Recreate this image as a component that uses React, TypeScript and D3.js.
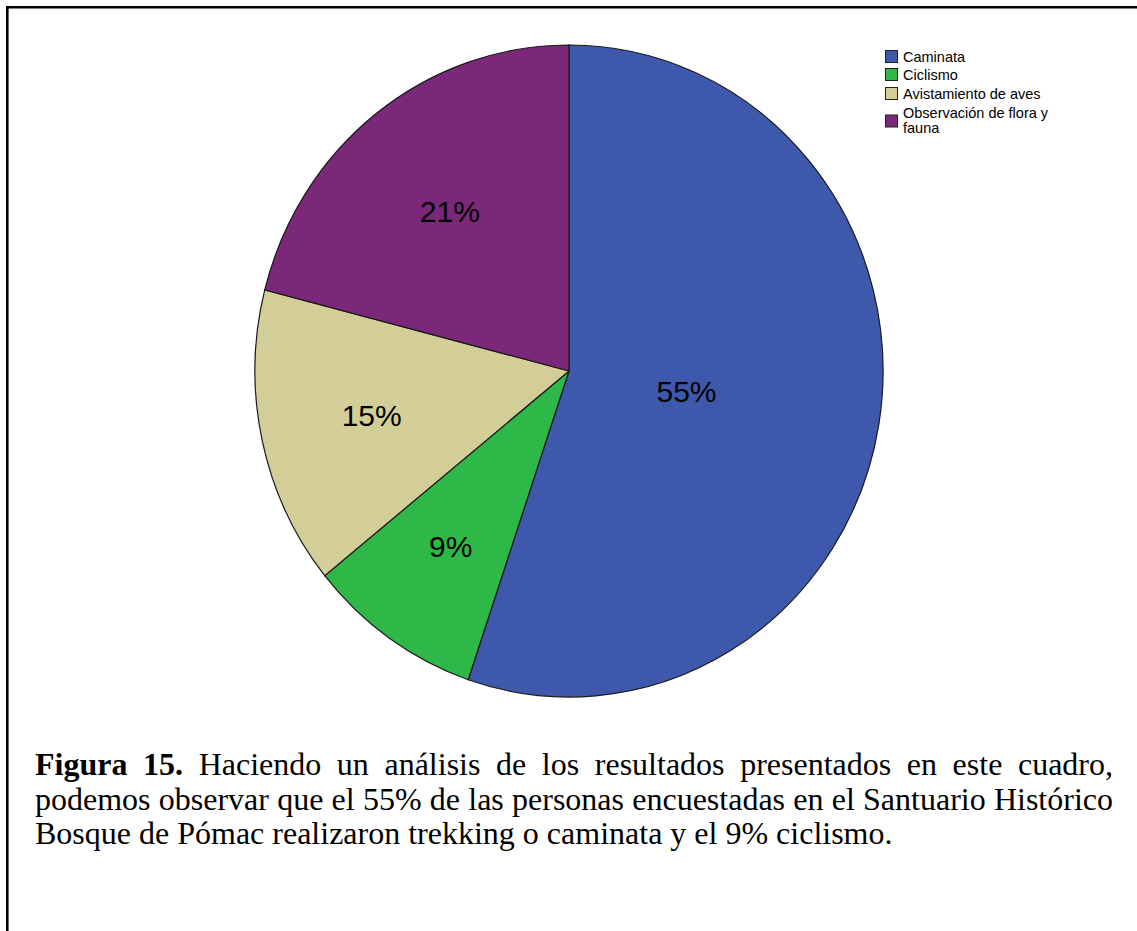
import React, { useEffect, useRef } from "react";
import * as d3 from "d3";

const categories = ["Caminata", "Ciclismo", "Avistamiento de aves", "Observación de flora y fauna"];
const legendLines = [["Caminata"], ["Ciclismo"], ["Avistamiento de aves"], ["Observación de flora y", "fauna"]];
const values = [55.2, 9.0, 14.8, 21.0];
const colors = ["#3e58ac", "#2eb848", "#d3ce97", "#7b287b"];
const captionLines = [
  { bold: "Figura 15.", text: " Haciendo un análisis de los resultados presentados en este cuadro,", justify: true },
  { bold: "", text: "podemos observar que el 55% de las personas encuestadas en el Santuario Histórico", justify: true },
  { bold: "", text: "Bosque de Pómac realizaron trekking o caminata y el 9% ciclismo.", justify: false },
];

const W = 1137;
const H = 931;
const cx = 569;
const cy = 371;
const rx = 314;
const ry = 326;
const capLeft = 35;
const capRight = 1113;
const capTop = 775;
const capLineH = 34.5;

export default function App() {
  const capRef = useRef<SVGGElement>(null);

  const total = d3.sum(values);
  const pie = d3.pie<number>().sort(null).value((d) => d).startAngle(0).endAngle(2 * Math.PI);
  const arcs = pie(values);
  const arc = d3.arc<d3.PieArcDatum<number>>().innerRadius(0).outerRadius(1);

  useEffect(() => {
    if (!capRef.current) return;
    const g = d3.select(capRef.current);
    g.selectAll<SVGTextElement, unknown>("text.cap").each(function () {
      const el = this as SVGTextElement;
      if (el.getAttribute("data-justify") !== "1") return;
      el.style.wordSpacing = "0px";
      const natural = el.getComputedTextLength();
      const txt = el.textContent || "";
      const gaps = (txt.match(/ /g) || []).length;
      if (gaps > 0) {
        const extra = (capRight - capLeft - natural) / gaps;
        el.style.wordSpacing = `${extra}px`;
      }
    });
  }, []);

  return (
    <svg width={W} height={H} style={{ position: "absolute", left: 0, top: 0, background: "#fff" }}>
      <rect x={0} y={0} width={W} height={H} fill="#fff" />
      <path d={`M7.3,${H} L7.3,7.3 L${W},7.3`} fill="none" stroke="#000" strokeWidth={2.6} />
      <g transform={`translate(${cx},${cy}) scale(${rx},${ry})`}>
        {arcs.map((a, i) => (
          <path
            key={i}
            d={arc(a) || ""}
            fill={colors[i]}
            stroke="#1a1a1a"
            strokeWidth={1.2}
            vectorEffect="non-scaling-stroke"
          />
        ))}
      </g>
      {arcs.map((a, i) => {
        const mid = (a.startAngle + a.endAngle) / 2;
        const half = (a.endAngle - a.startAngle) / 2;
        const k = (2 * Math.sin(half)) / (3 * half);
        const x = cx + rx * k * Math.sin(mid);
        const y = cy - ry * k * Math.cos(mid);
        return (
          <text
            key={i}
            x={x}
            y={y}
            dy="0.35em"
            textAnchor="middle"
            fontFamily="'Liberation Sans', Arial, sans-serif"
            fontSize={30}
            fill="#000"
          >
            {`${Math.round((values[i] / total) * 100)}%`}
          </text>
        );
      })}
      <g fontFamily="'Liberation Sans', Arial, sans-serif" fontSize={14.5} fill="#000">
        {legendLines.map((lines, i) => {
          const base = [62, 80, 99, 118][i];
          const sqY = lines.length > 1 ? base - 3 : base - 11.5;
          return (
            <g key={i}>
              <rect x={885.5} y={sqY} width={12} height={12} fill={colors[i]} stroke="#222" strokeWidth={1} />
              {lines.map((t, j) => (
                <text key={j} x={903} y={base + j * 14.5}>
                  {t}
                </text>
              ))}
            </g>
          );
        })}
      </g>
      <g ref={capRef} fontFamily="'Liberation Serif', 'Times New Roman', serif" fontSize={32} fill="#000">
        {captionLines.map((l, i) => (
          <text
            key={i}
            className="cap"
            data-justify={l.justify ? "1" : "0"}
            x={capLeft}
            y={capTop + i * capLineH}
            xmlSpace="preserve"
          >
            {l.bold ? <tspan fontWeight="bold">{l.bold}</tspan> : null}
            {l.text}
          </text>
        ))}
      </g>
    </svg>
  );
}
